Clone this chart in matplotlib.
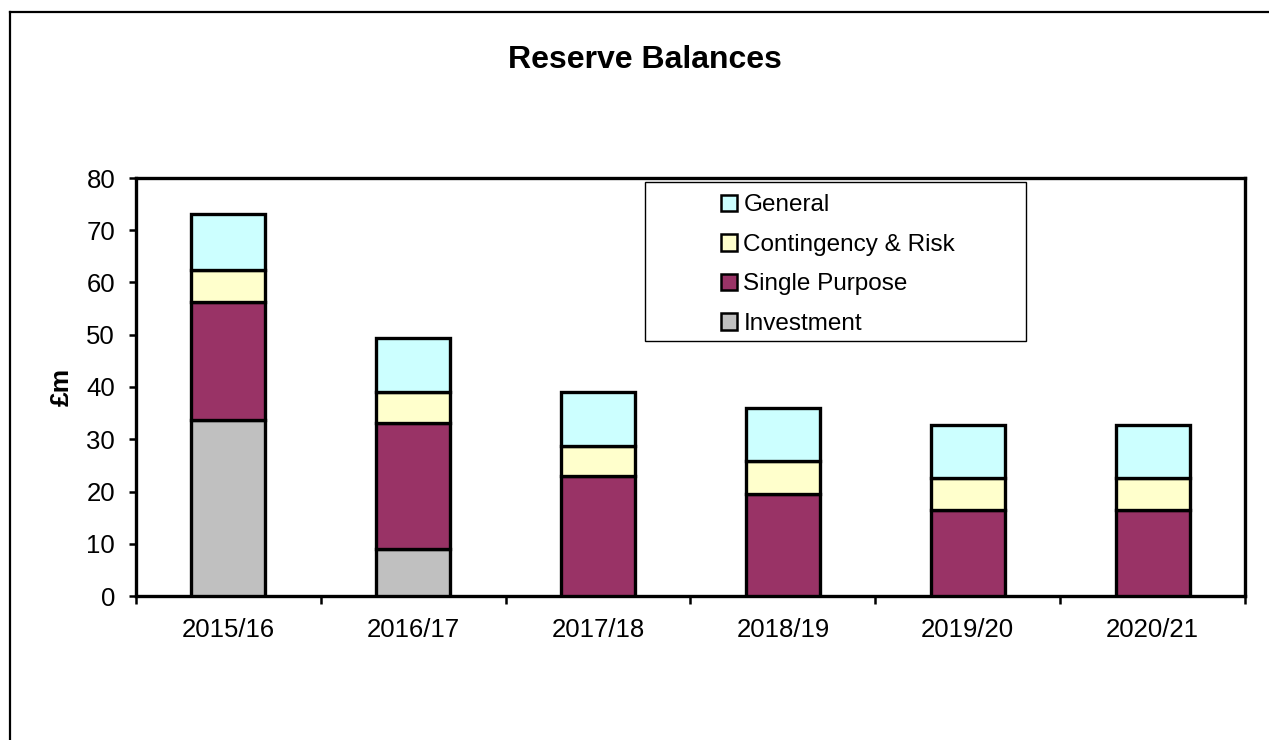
import matplotlib
matplotlib.use("Agg")
import matplotlib.pyplot as plt
from matplotlib.patches import Patch, Rectangle
from matplotlib.lines import Line2D
import numpy as np

years = ["2015/16", "2016/17", "2017/18", "2018/19", "2019/20", "2020/21"]
investment = [33.6, 9.0, 0.0, 0.0, 0.0, 0.0]
single_purpose = [22.6, 24.1, 22.9, 19.6, 16.4, 16.4]
contingency = [6.2, 6.0, 5.8, 6.3, 6.2, 6.2]
general = [10.8, 10.3, 10.4, 10.0, 10.1, 10.1]

series_names = ["Investment", "Single Purpose", "Contingency & Risk", "General"]
series_colors = ["#C0C0C0", "#993366", "#FFFFCC", "#CCFFFF"]

plt.rcParams['font.family'] = ['Liberation Sans', 'DejaVu Sans']

W, H = 1269, 740
fig = plt.figure(figsize=(W / 100, H / 100), dpi=100)
fig.patch.set_facecolor("white")

# outer chart border (left and top visible)
fig.add_artist(Line2D([10 / W, 10 / W], [0, 1 - 12 / H], transform=fig.transFigure,
                      color="black", lw=1.6))
fig.add_artist(Line2D([10 / W, 1], [1 - 12 / H, 1 - 12 / H], transform=fig.transFigure,
                      color="black", lw=1.6))

ax = fig.add_axes([136 / W, 1 - 596 / H, (1245 - 136) / W, (596 - 178) / H])

x = np.arange(len(years))
bottom = np.zeros(len(years))
handles = []
for vals, name, col in zip([investment, single_purpose, contingency, general],
                           series_names, series_colors):
    ax.bar(x, vals, width=0.4, bottom=bottom, color=col, edgecolor="black",
           linewidth=2.4, label=name, zorder=3)
    bottom += np.array(vals)
    handles.append(Patch(facecolor=col, edgecolor="black", linewidth=1.8, label=name))

ax.set_xlim(-0.5, len(years) - 0.5)
ax.set_ylim(0, 80)
ax.set_yticks(np.arange(0, 81, 10))
ax.set_xticks(x)
ax.set_xticklabels(years)
ax.set_xticks(np.arange(-0.5, len(years), 1.0), minor=True)
ax.tick_params(axis="x", which="major", length=0, pad=16, labelsize=18.5)
ax.tick_params(axis="x", which="minor", length=6, width=1.8, direction="out")
ax.tick_params(axis="y", length=5, width=1.8, direction="out", pad=10, labelsize=18.5)

for sp in ax.spines.values():
    sp.set_linewidth(2.4)

ax.set_ylabel("£m", fontsize=19, fontweight="bold", labelpad=9)

fig.text(645 / W, 1 - 60 / H, "Reserve Balances", ha="center", va="center",
         fontsize=23, fontweight="bold")

# legend box
fig.add_artist(Rectangle((645 / W, 1 - 341 / H), (1026 - 645) / W, (341 - 182) / H,
                         transform=fig.transFigure, facecolor="white",
                         edgecolor="black", lw=1.0, zorder=5))
leg = fig.legend(handles=handles[::-1], loc="upper left",
                 bbox_to_anchor=(702 / W, 1 - 175 / H), frameon=False,
                 fontsize=17.5, handlelength=0.65, handleheight=0.65,
                 handletextpad=0.25, labelspacing=0.72, borderpad=0.3)
leg.set_zorder(6)

fig.savefig("out.png", dpi=100)
